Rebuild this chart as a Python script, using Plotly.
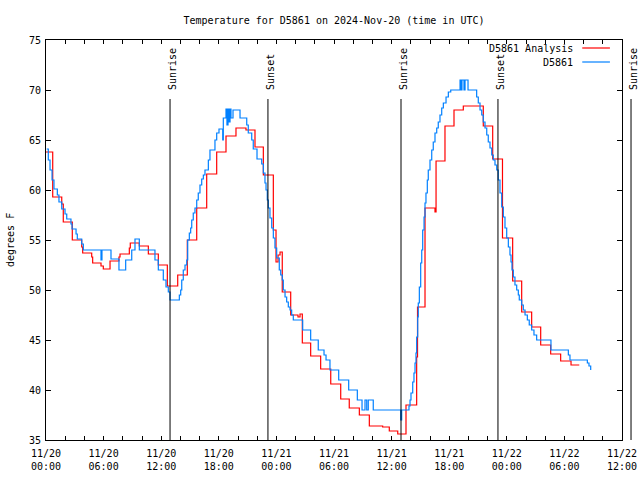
import plotly.graph_objects as go
import pandas as pd

# ---- data (hours since 2024-11-20 00:00 UTC) ----
start_time = "2024-11-20 00:00"
end_hours = 60

analysis_hours = [0.00, 0.70, 1.64, 1.80, 2.74, 3.72, 3.82, 4.76, 4.86, 5.73, 5.97, 6.67, 7.60, 7.71,
                  8.68, 8.78, 9.72, 10.66, 11.70, 12.64, 13.72, 14.72, 15.70, 16.74, 17.78, 18.75,
                  19.79, 20.83, 21.77, 22.64, 23.68, 23.96, 24.17, 24.38, 24.61, 25.49, 26.25, 26.46,
                  26.70, 27.57, 28.61, 29.66, 30.70, 31.59, 32.64, 33.68, 35.07, 35.76, 36.64, 37.50,
                  38.61, 38.70, 39.48, 40.52, 40.63, 41.56, 42.50, 43.47, 45.55, 46.53, 47.55, 48.61,
                  49.55, 50.59, 51.53, 52.57, 53.61, 54.69, 55.55]
analysis_temps = [63.8, 59.3, 58.6, 56.8, 55.0, 54.3, 53.7, 53.3, 52.7, 52.4, 52.1, 52.9, 53.3, 53.6,
                  54.2, 54.7, 54.4, 53.6, 52.5, 50.4, 51.5, 55.0, 58.2, 61.6, 63.8, 65.4,
                  66.2, 66.0, 64.3, 61.5, 56.0, 52.8, 53.5, 53.8, 49.8, 47.5, 47.3, 47.6,
                  44.7, 43.4, 42.1, 40.6, 39.1, 38.2, 37.5, 36.4, 36.3, 35.9, 35.6, 38.5,
                  43.3, 48.3, 58.2, 57.8, 62.9, 66.4, 68.0, 68.4, 66.4, 63.1, 55.2, 50.9,
                  47.8, 46.3, 44.5, 43.6, 42.9, 42.5, 42.5]

obs_hours = [0.07, 0.24, 0.42, 0.63, 0.83, 1.18, 1.35, 1.64, 1.98, 2.16, 2.60, 2.71, 3.13, 3.26,
             3.72, 3.89, 5.73, 5.83, 6.77, 7.60, 8.30, 8.93, 9.27, 9.72, 11.35, 11.70, 12.22,
             12.50, 12.74, 12.92, 13.89, 14.03, 14.14, 14.30, 14.48, 14.66, 14.76, 14.93, 15.07,
             15.18, 15.34, 15.52, 15.70, 15.86, 16.04, 16.22, 16.39, 16.56, 16.91, 17.08, 17.60,
             17.78, 18.02, 18.41, 18.47, 18.75, 18.85, 18.96, 19.06, 19.17, 19.27, 19.48, 20.21,
             20.91, 21.07, 21.43, 21.59, 21.98, 22.47, 22.64, 22.81, 22.92, 23.05, 23.16, 23.33,
             23.51, 23.68, 23.85, 24.03, 24.30, 24.45, 24.61, 24.72, 24.90, 25.07, 25.24, 25.42,
             25.59, 25.76, 26.74, 27.57, 28.36, 28.96, 29.17, 29.58, 30.49, 31.53, 32.43, 32.92,
             33.23, 33.41, 33.57, 34.09, 36.95, 37.05, 37.81, 37.92, 38.02, 38.20, 38.33, 38.44,
             38.54, 38.61, 38.72, 38.78, 38.89, 39.03, 39.14, 39.24, 39.38, 39.48, 39.58, 39.72,
             39.82, 40.00, 40.18, 40.34, 40.52, 40.70, 40.86, 41.04, 41.22, 41.39, 41.67, 41.91,
             42.16, 43.13, 43.23, 43.33, 43.54, 43.65, 43.96, 44.86, 45.03, 45.21, 45.39, 45.55,
             45.73, 45.91, 46.07, 46.25, 46.43, 46.59, 46.77, 46.95, 47.11, 47.29, 47.47, 47.64,
             47.81, 47.99, 48.16, 48.33, 48.44, 48.54, 48.68, 48.85, 49.03, 49.20, 49.30, 49.55,
             49.72, 49.90, 50.14, 50.34, 50.59, 50.83, 51.11, 52.60, 54.41, 54.58, 56.39, 56.56,
             56.74]
obs_temps = [64.1, 63.0, 62.0, 61.0, 60.1, 59.5, 58.8, 58.1, 57.6, 57.1, 56.6, 56.1, 55.6, 55.1,
             54.6, 54.0, 53.0, 54.0, 53.1, 52.0, 53.0, 54.0, 55.1, 54.0, 53.0, 52.0, 51.0,
             50.3, 49.8, 49.0, 49.5, 50.0, 51.0, 52.0, 52.5, 53.0, 55.0, 55.7, 56.2,
             57.0, 57.7, 58.2, 59.0, 59.7, 60.5, 61.1, 61.5, 62.0, 63.0, 64.0, 65.0,
             65.7, 66.1, 65.0, 67.2, 68.1, 66.5, 68.1, 66.8, 68.1, 67.2, 68.0, 67.2,
             66.5, 65.7, 65.0, 64.1, 63.1, 62.6, 61.7, 60.7, 60.0, 59.0, 58.2, 57.2,
             56.2, 55.2, 54.2, 53.2, 52.0, 51.5, 51.0, 50.0, 49.3, 48.8, 48.3, 48.0,
             47.5, 47.0, 46.0, 45.0, 44.0, 43.5, 43.0, 42.0, 41.0, 40.0, 39.0, 38.0,
             39.0, 38.0, 39.0, 38.0, 37.0, 38.0, 38.4, 39.0, 39.7, 40.8, 41.7, 42.7,
             43.7, 45.3, 47.3, 48.7, 50.3, 52.7, 54.0, 56.0, 57.3, 58.7, 59.7, 61.0,
             62.0, 63.0, 64.0, 64.8, 65.7, 66.2, 66.8, 67.5, 68.2, 68.7, 69.3, 69.8,
             70.0, 71.0, 70.0, 71.0, 70.0, 71.0, 70.0, 69.3, 68.7, 68.0, 67.5, 66.8,
             66.2, 65.5, 64.8, 64.2, 63.5, 63.0, 62.5, 62.0, 61.0, 59.7, 58.3, 57.3,
             56.2, 55.2, 54.3, 53.5, 52.8, 52.0, 51.3, 50.5, 50.0, 49.5, 49.0, 48.5,
             48.0, 47.5, 47.0, 46.5, 46.0, 45.5, 45.0, 44.0, 43.5, 43.0, 42.7, 42.4,
             42.0]

sun_event_hours = [12.92, 23.12, 36.98, 47.08, 60.94]
sun_event_labels = ["Sunrise", "Sunset", "Sunrise", "Sunset", "Sunrise"]

tick_hours = list(range(0, 61, 2))
tick_label_text = {0: "11/20<br>00:00", 6: "11/20<br>06:00", 12: "11/20<br>12:00",
                   18: "11/20<br>18:00", 24: "11/21<br>00:00", 30: "11/21<br>06:00",
                   36: "11/21<br>12:00", 42: "11/21<br>18:00", 48: "11/22<br>00:00",
                   54: "11/22<br>06:00", 60: "11/22<br>12:00"}

series_names = ["D5861 Analysis", "D5861"]
series_colors = ["#ff0000", "#0080ff"]

# ---- build ----
t0 = pd.Timestamp(start_time)
to_time = lambda hrs: [t0 + pd.Timedelta(hours=h) for h in hrs]

FONT = "DejaVu Sans Mono"
fig = go.Figure()
fig.add_trace(go.Scatter(x=to_time(analysis_hours), y=analysis_temps, mode="lines",
                         line=dict(color=series_colors[0], width=1.2, shape="hv"),
                         name=series_names[0], showlegend=False))
fig.add_trace(go.Scatter(x=to_time(obs_hours), y=obs_temps, mode="lines",
                         line=dict(color=series_colors[1], width=1.2, shape="hv"),
                         name=series_names[1], showlegend=False))

shapes = []
annotations = []
for h, lab in zip(sun_event_hours, sun_event_labels):
    px = h / end_hours
    shapes.append(dict(type="line", xref="paper", yref="paper", x0=px, x1=px, y0=0, y1=0.8525,
                       line=dict(color="black", width=1)))
    annotations.append(dict(xref="paper", yref="paper", x=px, y=0.87, text=lab, textangle=-90,
                            showarrow=False, xanchor="center", yanchor="bottom", xshift=2,
                            font=dict(family=FONT, size=10, color="black")))

# legend (text left of sample line, as in the reference)
leg_y = [0.98, 0.945]
for name, col, yy in zip(series_names, series_colors, leg_y):
    annotations.append(dict(xref="paper", yref="paper", x=0.918, y=yy, text=name, showarrow=False,
                            xanchor="right", yanchor="middle",
                            font=dict(family=FONT, size=10, color="black")))
    shapes.append(dict(type="line", xref="paper", yref="paper", x0=0.931, x1=0.979, y0=yy, y1=yy,
                       line=dict(color=col, width=1.2)))

# y-axis label
annotations.append(dict(xref="paper", yref="paper", x=(10 - 46) / 576, y=0.5, text="degrees F",
                        textangle=-90, showarrow=False, xanchor="center", yanchor="middle",
                        font=dict(family=FONT, size=10, color="black")))

fig.update_layout(
    width=640, height=480,
    margin=dict(l=46, r=18, t=40, b=40, autoexpand=False),
    paper_bgcolor="white", plot_bgcolor="white",
    font=dict(family=FONT, size=10, color="black"),
    title=dict(text="Temperature for D5861 on 2024-Nov-20 (time in UTC)", x=0.5, xref="paper",
               y=1 - 20 / 480, yanchor="middle", font=dict(family=FONT, size=10, color="black")),
    shapes=shapes, annotations=annotations,
    showlegend=False,
)
fig.update_xaxes(type="date", range=[t0, t0 + pd.Timedelta(hours=end_hours)],
                 tickvals=to_time(tick_hours),
                 ticktext=[tick_label_text.get(h, "") for h in tick_hours],
                 ticks="inside", ticklen=4, tickcolor="black", mirror="ticks",
                 showline=True, linecolor="black", linewidth=1, showgrid=False, zeroline=False,
                 automargin=False, ticklabelstandoff=4,
                 tickfont=dict(family=FONT, size=10, color="black"))
fig.update_yaxes(range=[35, 75], dtick=5, tick0=35,
                 ticks="inside", ticklen=5, tickcolor="black", mirror="ticks",
                 showline=True, linecolor="black", linewidth=1, showgrid=False, zeroline=False,
                 automargin=False, ticklabelstandoff=2,
                 tickfont=dict(family=FONT, size=10, color="black"))

fig.write_html("out.html", config={"displayModeBar": False},
               post_script="document.body.style.margin='0';document.body.style.overflow='hidden';")
